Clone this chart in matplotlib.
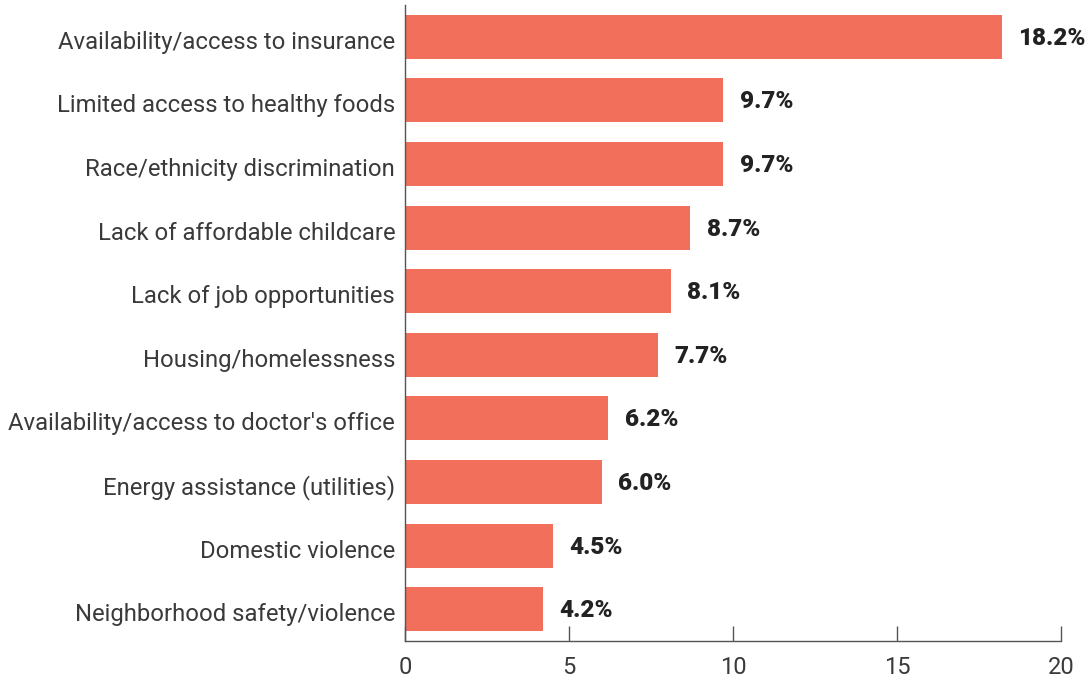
import matplotlib.pyplot as plt
from matplotlib.transforms import ScaledTranslation

# Survey results: share of responses per barrier
categories = [
    "Availability/access to insurance",
    "Limited access to healthy foods",
    "Race/ethnicity discrimination",
    "Lack of affordable childcare",
    "Lack of job opportunities",
    "Housing/homelessness",
    "Availability/access to doctor's office",
    "Energy assistance (utilities)",
    "Domestic violence",
    "Neighborhood safety/violence",
]
values = [18.2, 9.7, 9.7, 8.7, 8.1, 7.7, 6.2, 6.0, 4.5, 4.2]
x_ticks = [0, 5, 10, 15, 20]

bar_color = "#F26F5B"
text_color = "#3a3a3a"

plt.rcParams["font.family"] = ["Roboto", "DejaVu Sans"]

fig = plt.figure(figsize=(10.88, 6.81), dpi=100)
ax = fig.add_axes([0.3722, 0.0587, 0.6030, 0.9340])

pos = list(range(len(categories)))
ax.barh(pos, values, height=0.69, color=bar_color)

# Value labels at the end of each bar, nudged down slightly
nudge_val = ScaledTranslation(0, -0.015, fig.dpi_scale_trans)
for y, v in zip(pos, values):
    ax.text(v + 0.5, y, f"{v:.1f}%", va="center", ha="left",
            fontsize=17.5, fontweight=900, color="#222222",
            transform=ax.transData + nudge_val)

ax.set_yticks(pos)
ax.set_yticklabels(categories, fontsize=17.2, color=text_color)
ax.set_ylim(len(categories) - 0.5, -0.5)
ax.set_xlim(0, 20)
ax.set_xticks(x_ticks)
ax.set_xticklabels([str(t) for t in x_ticks], fontsize=17, color=text_color)

ax.tick_params(axis="y", length=0, pad=7)
ax.tick_params(axis="x", direction="in", length=11, width=1, color="#555555", pad=11)

# category labels sit a little below the bar centres
nudge_lab = ScaledTranslation(0, -0.03, fig.dpi_scale_trans)
for lab in ax.get_yticklabels():
    lab.set_transform(lab.get_transform() + nudge_lab)

for side in ["top", "right"]:
    ax.spines[side].set_visible(False)
for side in ["left", "bottom"]:
    ax.spines[side].set_color("#555555")
    ax.spines[side].set_linewidth(1)

fig.savefig("out.png", dpi=100)
